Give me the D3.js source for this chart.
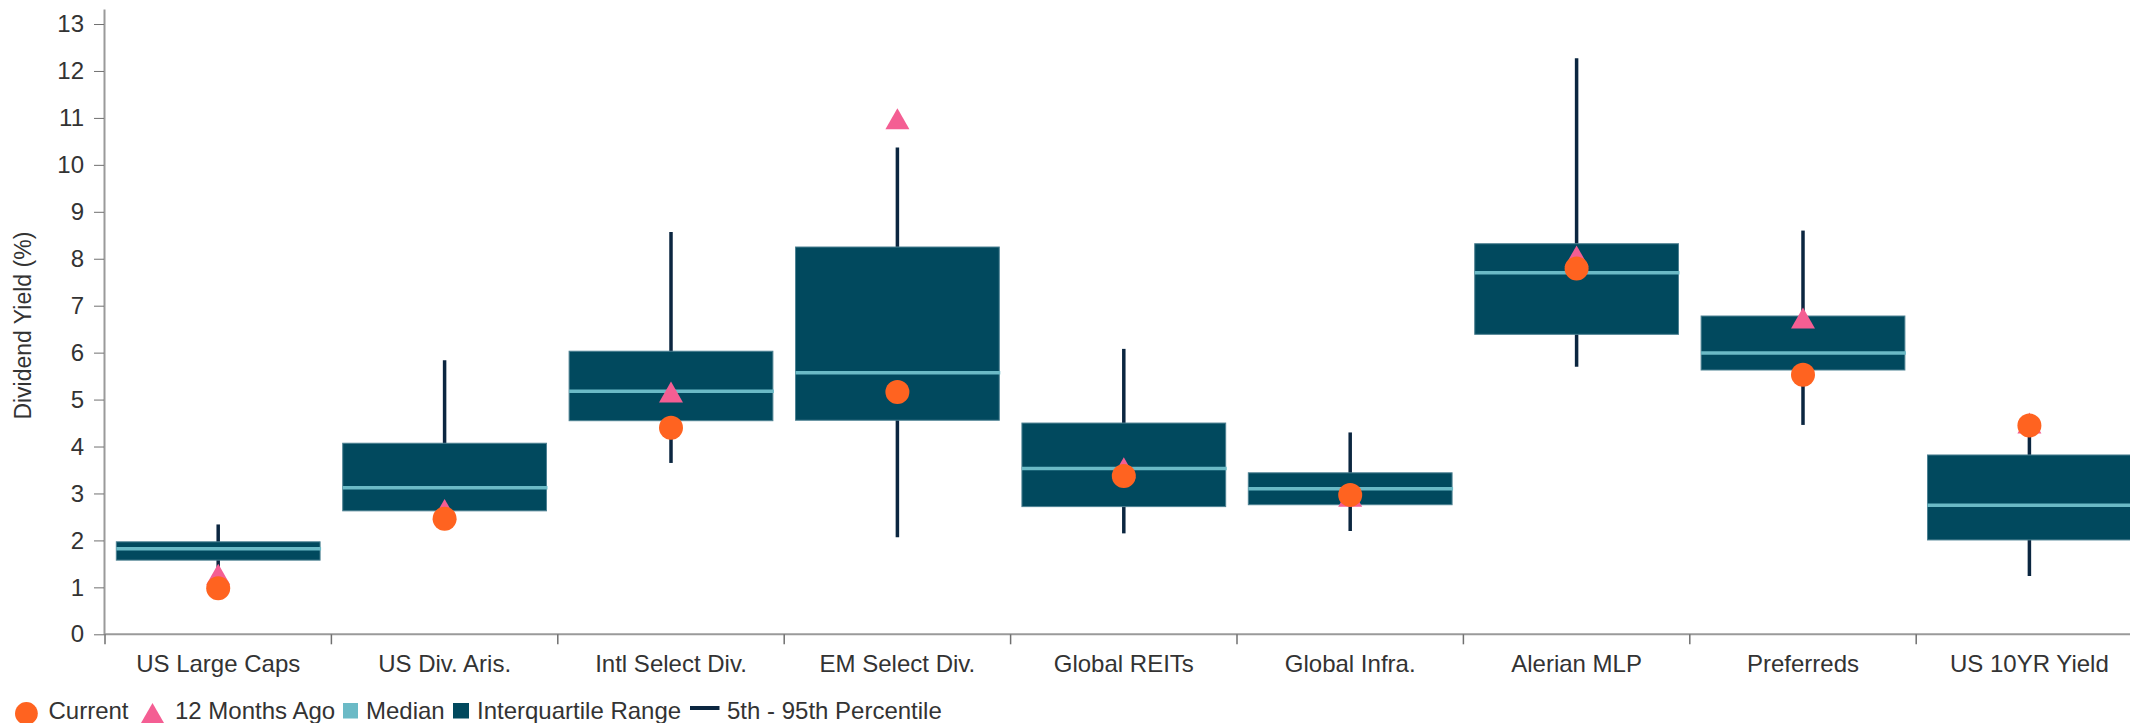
<!DOCTYPE html>
<html>
<head>
<meta charset="utf-8">
<script src="https://cdn.jsdelivr.net/npm/d3@7"></script>
<style>
  html, body { margin: 0; padding: 0; background: #fff; }
  svg { display: block; font-family: "Liberation Sans", Arial, Helvetica, sans-serif; }
</style>
</head>
<body>
<svg id="chart" width="2130" height="723"></svg>
<script>
// ---- Data ----
const categories = ["US Large Caps", "US Div. Aris.", "Intl Select Div.", "EM Select Div.", "Global REITs", "Global Infra.", "Alerian MLP", "Preferreds", "US 10YR Yield"];
const p5      = [1.30, 2.30, 3.65, 2.07, 2.15, 2.20, 5.70, 4.46, 1.24];
const q1      = [1.58, 2.63, 4.55, 4.56, 2.72, 2.76, 6.39, 5.63, 2.01];
const median  = [1.82, 3.12, 5.18, 5.57, 3.53, 3.10, 7.70, 5.99, 2.75];
const q3      = [1.97, 4.07, 6.03, 8.25, 4.50, 3.44, 8.32, 6.78, 3.82];
const p95     = [2.34, 5.84, 8.57, 10.37, 6.08, 4.30, 12.27, 8.60, 4.30];
const current = [0.98, 2.46, 4.40, 5.16, 3.37, 2.97, 7.79, 5.53, 4.45];
const monthsAgo12 = [1.28, 2.66, 5.16, 10.98, 3.55, 2.94, 8.06, 6.74, 4.50];
const yTicks  = [0, 1, 2, 3, 4, 5, 6, 7, 8, 9, 10, 11, 12, 13];
const yAxisTitle = "Dividend Yield (%)";
const legendLabels = ["Current", "12 Months Ago", "Median", "Interquartile Range", "5th - 95th Percentile"];

// ---- Styles ----
const C = {
  box: "#01495e",
  boxStroke: "#4d8192",
  median: "#6bbac6",
  whisker: "#0b2640",
  current: "#ff6320",
  ago: "#f45e93",
  axis: "#9a9a9a",
  tick: "#707070",
  text: "#333333"
};
const FS = 24;

const svg = d3.select("#chart");
const W = 2130;

const x = d3.scaleBand().domain(categories).range([105, 2142.6]).paddingInner(0).paddingOuter(0);
const y = d3.scaleLinear().domain([0, 13.32]).range([634.3, 9]);

const boxW = x.bandwidth() * 0.9;
const cx = c => x(c) + x.bandwidth() / 2;

const rows = categories.map((c, i) => ({
  c, p5: p5[i], q1: q1[i], med: median[i], q3: q3[i], p95: p95[i], cur: current[i], ago: monthsAgo12[i]
}));

// ---- Y axis ----
const yAxis = d3.axisLeft(y).tickValues(yTicks).tickSize(10).tickSizeOuter(0).tickPadding(10);
const gy = svg.append("g").attr("transform", "translate(104,0)").call(yAxis);
gy.select(".domain").attr("stroke", C.axis).attr("stroke-width", 2);
gy.selectAll(".tick line").attr("stroke", C.tick).attr("stroke-width", 1);
gy.selectAll(".tick text").attr("fill", C.text).style("font-size", FS + "px")
  .style("font-family", "'Liberation Sans', Arial, sans-serif");

svg.append("text")
  .attr("transform", "translate(31," + ((y.range()[0] + y.range()[1]) / 2 + 4) + ") rotate(-90)")
  .attr("text-anchor", "middle")
  .attr("fill", C.text)
  .style("font-size", "23px")
  .text(yAxisTitle);

// ---- X axis ----
const gx = svg.append("g");
gx.append("line")
  .attr("x1", 104).attr("x2", W)
  .attr("y1", y(0)).attr("y2", y(0))
  .attr("stroke", C.axis).attr("stroke-width", 2);
const bounds = categories.map(c => x(c)).concat([x(categories[categories.length - 1]) + x.bandwidth()]);
gx.selectAll("line.xt").data(bounds).join("line")
  .attr("class", "xt")
  .attr("x1", d => d).attr("x2", d => d)
  .attr("y1", y(0)).attr("y2", y(0) + 10)
  .attr("stroke", C.tick).attr("stroke-width", 1.5);
gx.selectAll("text.xl").data(categories).join("text")
  .attr("class", "xl")
  .attr("x", d => cx(d))
  .attr("y", 672)
  .attr("text-anchor", "middle")
  .attr("fill", C.text)
  .style("font-size", FS + "px")
  .text(d => d);

// ---- Boxes ----
const plot = svg.append("g");
plot.selectAll("line.wh").data(rows).join("line")
  .attr("class", "wh")
  .attr("x1", d => cx(d.c)).attr("x2", d => cx(d.c))
  .attr("y1", d => y(d.p95)).attr("y2", d => y(d.p5))
  .attr("stroke", C.whisker).attr("stroke-width", 3.5);
plot.selectAll("rect.iqr").data(rows).join("rect")
  .attr("class", "iqr")
  .attr("x", d => cx(d.c) - boxW / 2)
  .attr("width", boxW)
  .attr("y", d => y(d.q3))
  .attr("height", d => y(d.q1) - y(d.q3))
  .attr("fill", C.box)
  .attr("stroke", C.boxStroke).attr("stroke-width", 1);
plot.selectAll("line.med").data(rows).join("line")
  .attr("class", "med")
  .attr("x1", d => cx(d.c) - boxW / 2).attr("x2", d => cx(d.c) + boxW / 2 + 1)
  .attr("y1", d => y(d.med)).attr("y2", d => y(d.med))
  .attr("stroke", C.median).attr("stroke-width", 3.5);

const triPath = (w, h) => `M0,${-h / 2}L${w / 2},${h / 2}L${-w / 2},${h / 2}Z`;
plot.selectAll("path.ago").data(rows).join("path")
  .attr("class", "ago")
  .attr("transform", d => `translate(${cx(d.c)},${y(d.ago)})`)
  .attr("d", triPath(24, 21))
  .attr("fill", C.ago);
plot.selectAll("circle.cur").data(rows).join("circle")
  .attr("class", "cur")
  .attr("cx", d => cx(d.c))
  .attr("cy", d => y(d.cur))
  .attr("r", 12)
  .attr("fill", C.current);

// ---- Legend ----
const lg = svg.append("g");
const textY = 719;
const symX = [15, 141, 343, 453, 690];
const txtX = [48.5, 175, 366, 477, 727];
lg.append("circle").attr("cx", symX[0] + 11.4).attr("cy", 713.5).attr("r", 11.4).attr("fill", C.current);
lg.append("path").attr("transform", `translate(${symX[1] + 11.5},713)`).attr("d", triPath(23, 20)).attr("fill", C.ago);
lg.append("rect").attr("x", symX[2]).attr("y", 703).attr("width", 15).attr("height", 15.5).attr("fill", C.median);
lg.append("rect").attr("x", symX[3]).attr("y", 703).attr("width", 16).attr("height", 15.5).attr("fill", C.box);
lg.append("line").attr("x1", symX[4]).attr("x2", symX[4] + 29.5).attr("y1", 708).attr("y2", 708)
  .attr("stroke", C.whisker).attr("stroke-width", 4);
lg.selectAll("text.lt").data(legendLabels).join("text")
  .attr("class", "lt")
  .attr("x", (d, i) => txtX[i])
  .attr("y", textY)
  .attr("fill", C.text)
  .style("font-size", FS + "px")
  .text(d => d);
</script>
</body>
</html>
